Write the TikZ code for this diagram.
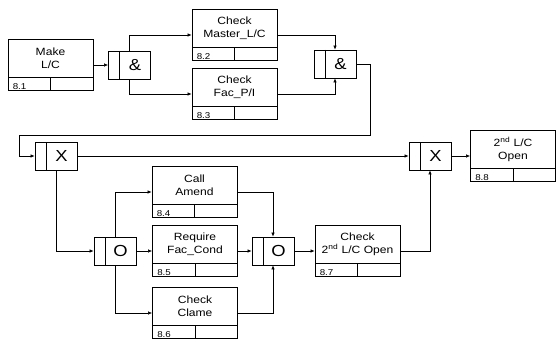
\documentclass[tikz,border=0pt]{standalone}
\usepackage{fontspec}
\setmainfont{Liberation Sans}[FakeStretch=1.15]
\usetikzlibrary{arrows.meta}

\begin{document}
\begin{tikzpicture}[x=1pt, y=-1pt,
      uob/.style={draw, line width=0.8pt, minimum width=85pt, minimum height=51pt, inner sep=0pt,
                  path picture={\draw[line width=0.8pt]
                    ([yshift=13pt]path picture bounding box.south west) -- ([yshift=13pt]path picture bounding box.south east)
                    (path picture bounding box.south) -- ([yshift=13pt]path picture bounding box.south);}},
      ttl/.style={align=center, font=\fontsize{10.5}{13}\selectfont, yshift=6.5pt},
      num/.style={anchor=south west, font=\fontsize{8.5}{9}\selectfont, inner sep=1pt, xshift=4pt, yshift=0.5pt},
      jct/.style={draw, line width=0.8pt, minimum width=42pt, minimum height=28pt, inner sep=0pt,
                  path picture={\draw[line width=0.8pt]
                    ([xshift=11pt]path picture bounding box.north west) -- ([xshift=11pt]path picture bounding box.south west);}},
      sym/.style={font=\fontsize{16}{16}\selectfont, xshift=5.5pt},
      ar/.style={-{Latex[length=4pt, width=3.5pt]}, line width=0.6pt}
    ]
    \useasboundingbox (0,0) rectangle (556,342);
    % activities
    \node[uob, label={[ttl]center:{Make\\L/C}}, label={[num]south west:8.1}]                         (m1) at (50.5,65)   {};
    \node[uob, label={[ttl]center:{Check\\Master\_L/C}}, label={[num]south west:8.2}]                (m2) at (234.5,35)  {};
    \node[uob, label={[ttl]center:{Check\\Fac\_P/I}}, label={[num]south west:8.3}]                   (m3) at (234.5,94)  {};
    \node[uob, label={[ttl]center:{Call\\Amend}}, label={[num]south west:8.4}]                       (m4) at (194.5,192) {};
    \node[uob, label={[ttl]center:{Require\\Fac\_Cond}}, label={[num]south west:8.5}]                (m5) at (195,251)   {};
    \node[uob, label={[ttl]center:{Check\\Clame}}, label={[num]south west:8.6}]                      (m6) at (195,313)   {};
    \node[uob, label={[ttl]center:{Check\\2\textsuperscript{nd} L/C Open}}, label={[num]south west:8.7}] (m7) at (357.5,251) {};
    \node[uob, label={[ttl]center:{2\textsuperscript{nd} L/C\\Open}}, label={[num]south west:8.8}]  (m8) at (513,156)   {};
    % junctions
    \node[jct, label={[sym]center:\&}] (j1) at (129.5,65) {};
    \node[jct, label={[sym]center:\&}] (j2) at (335,64)   {};
    \node[jct, label={[sym]center:X}]  (j3) at (56,156)   {};
    \node[jct, label={[sym]center:X}]  (j4) at (430,156)  {};
    \node[jct, label={[sym]center:O}]  (j5) at (115,251)  {};
    \node[jct, label={[sym]center:O}]  (j6) at (273,251)  {};
    % links
    \draw[ar] (m1) -- (j1);
    \draw[ar] (j1.north) |- (m2.west);
    \draw[ar] (j1.south) |- (m3.west);
    \draw[ar] (m2.east) -| (j2.north);
    \draw[ar] (m3.east) -| (j2.south);
    \draw[ar] (j2.east) -- ++(14,0) -- ++(0,71) -| ([xshift=-15pt]j3.west) -- (j3.west);
    \draw[ar] (j3) -- (j4);
    \draw[ar] (j4) -- (m8);
    \draw[ar] (j3.south) |- (j5.west);
    \draw[ar] (j5.north) |- (m4.west);
    \draw[ar] (j5) -- (m5);
    \draw[ar] (j5.south) |- (m6.west);
    \draw[ar] (m4.east) -| (j6.north);
    \draw[ar] (m5) -- (j6);
    \draw[ar] (m6.east) -| (j6.south);
    \draw[ar] (j6) -- (m7);
    \draw[ar] (m7.east) -| (j4.south);
  \end{tikzpicture}
\end{document}
